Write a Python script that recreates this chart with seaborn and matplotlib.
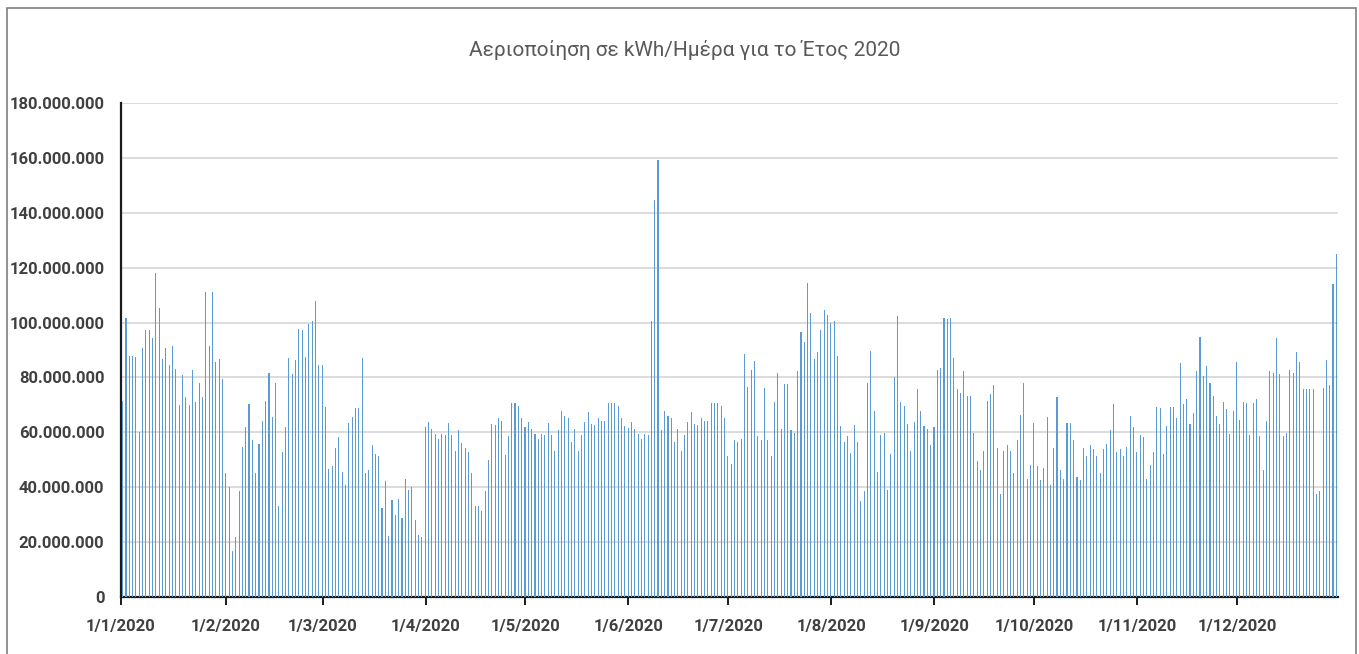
import matplotlib
matplotlib.use("Agg")
import matplotlib.pyplot as plt
import matplotlib.ticker as mticker
from matplotlib.patches import Rectangle
import seaborn as sns
import pandas as pd
import numpy as np

# Daily values in millions of kWh, 2020 (leap year, 366 days)
jan = [71.5, 101.8, 87.9, 87.9, 87.3, 60.0, 90.7, 97.2, 97.2, 94.3, 118.2, 105.2, 86.9, 90.7, 84.6, 91.6,
       83.2, 70.1, 80.8, 73.0, 70.1, 82.7, 71.0, 78.1, 73.0, 111.2, 91.6, 111.2, 85.6, 86.9, 79.5]
feb = [45.1, 40.0, 16.6, 21.8, 38.5, 54.8, 61.8, 70.3, 57.2, 45.1, 55.8, 64.2, 71.5, 81.8, 65.7, 78.1,
       33.3, 53.0, 61.8, 87.0, 81.2, 86.4, 97.6, 97.2, 87.5, 99.6, 100.4, 107.9, 84.6]
mar = [84.6, 69.3, 46.8, 47.9, 54.3, 58.2, 45.5, 40.8, 63.3, 65.7, 68.8, 68.8, 87.0, 45.1, 46.3, 55.4,
       52.1, 51.2, 32.5, 42.2, 22.1, 35.2, 29.7, 35.8, 28.7, 43.0, 39.0, 40.2, 28.1, 22.7, 21.8]
apr = [61.8, 63.6, 61.2, 59.4, 57.6, 59.4, 58.9, 63.3, 58.9, 53.3, 60.8, 56.1, 54.3, 52.8, 45.1, 33.0,
       33.3, 31.5, 38.5, 50.0, 63.0, 62.7, 65.1, 64.2, 51.9, 58.5, 70.7, 70.7, 69.7, 65.1]
may = [61.8, 63.6, 61.2, 59.4, 57.6, 59.4, 58.9, 63.3, 58.9, 53.3, 60.8, 67.9, 66.0, 65.1, 56.6, 61.2,
       53.3, 58.9, 63.6, 67.3, 63.0, 62.7, 65.1, 64.0, 64.0, 70.7, 70.7, 70.7, 69.7, 65.1, 62.2]
jun = [61.6, 63.6, 61.2, 59.4, 57.6, 59.4, 58.9, 100.6, 144.8, 159.2, 60.8, 67.9, 66.0, 65.1, 56.6, 61.2,
       53.3, 58.9, 63.6, 67.3, 63.0, 62.7, 65.1, 64.0, 64.0, 70.7, 70.7, 70.7, 69.7, 65.1]
jul = [51.2, 48.5, 57.2, 56.6, 57.6, 88.5, 76.7, 82.7, 86.1, 58.7, 57.2, 76.1, 57.2, 51.5, 71.0, 81.5,
       61.3, 77.6, 77.6, 60.8, 59.9, 82.4, 96.7, 93.0, 114.5, 103.6, 86.9, 89.3, 97.2, 104.6, 102.8]
aug = [100.0, 100.4, 87.9, 62.3, 56.6, 58.5, 52.5, 62.7, 56.6, 34.8, 38.5, 78.1, 89.7, 67.9, 45.5, 58.9,
       59.9, 39.0, 52.1, 80.0, 102.4, 71.0, 69.7, 63.0, 53.3, 63.6, 75.8, 67.9, 62.2, 61.2, 55.4]
sep = [61.8, 82.7, 83.6, 101.8, 101.2, 101.8, 87.0, 75.8, 74.3, 82.4, 73.3, 73.3, 59.9, 49.7, 46.1, 53.3,
       71.5, 73.9, 77.2, 54.3, 37.6, 53.3, 55.4, 53.3, 45.1, 57.2, 66.4, 78.1, 43.0, 48.2]
oct_ = [63.3, 47.9, 42.7, 46.9, 65.7, 40.8, 54.3, 73.0, 46.3, 43.0, 63.3, 63.3, 57.2, 43.6, 42.7, 54.3,
        51.2, 55.4, 53.9, 51.2, 45.1, 53.9, 55.8, 60.8, 70.3, 53.0, 53.9, 51.2, 54.8, 66.1, 61.8]
nov = [53.0, 58.9, 58.2, 43.0, 48.2, 53.0, 69.3, 68.8, 52.1, 62.3, 69.3, 69.3, 65.1, 85.2, 70.2, 72.1,
       63.0, 66.9, 82.4, 94.9, 80.4, 84.1, 78.1, 73.3, 66.0, 63.0, 71.0, 68.4, 59.4, 67.9]
dec = [85.6, 64.6, 71.0, 70.7, 58.9, 70.7, 72.1, 58.5, 46.3, 64.0, 82.4, 81.8, 94.3, 81.2, 58.5, 59.9,
       82.7, 81.8, 89.3, 85.6, 75.8, 75.8, 75.8, 75.8, 37.6, 38.5, 76.1, 86.4, 77.2, 113.9, 125.1]

month_labels = ["1/1/2020", "1/2/2020", "1/3/2020", "1/4/2020", "1/5/2020", "1/6/2020",
                "1/7/2020", "1/8/2020", "1/9/2020", "1/10/2020", "1/11/2020", "1/12/2020"]
title = "Αεριοποίηση σε kWh/Ημέρα για το Έτος 2020"

months = [jan, feb, mar, apr, may, jun, jul, aug, sep, oct_, nov, dec]
values = [v * 1e6 for m in months for v in m]
dates = pd.date_range("2020-01-01", periods=len(values), freq="D")
df = pd.DataFrame({"date": dates.strftime("%Y-%m-%d"), "value": values})

sns.set_theme(style="white")
plt.rcParams["font.family"] = ["Roboto", "DejaVu Sans"]

fig = plt.figure(figsize=(13.59, 6.54), dpi=100)
ax = fig.add_axes([121 / 1359, 1 - 597 / 654, (1338 - 121) / 1359, (597 - 103) / 654])

sns.barplot(data=df, x="date", y="value", color="#5B9BD5", width=0.32,
            linewidth=0, saturation=1, ax=ax, zorder=3)

ax.set_xlim(-0.5, len(values) - 0.5)
ax.set_ylim(0, 180e6)
ax.yaxis.set_major_locator(mticker.MultipleLocator(20e6))
ax.yaxis.set_major_formatter(mticker.FuncFormatter(lambda v, p: f"{int(round(v)):,}".replace(",", ".")))
ax.grid(axis="y", color="#d9d9d9", linewidth=1.3, zorder=0)
ax.set_axisbelow(True)

month_starts = [0]
for m in months[:-1]:
    month_starts.append(month_starts[-1] + len(m))
ax.set_xticks([s - 0.5 if i == 0 else s + 0.1 for i, s in enumerate(month_starts)])
ax.set_xticklabels(month_labels)

ax.set_xlabel("")
ax.set_ylabel("")
for side in ["top", "right"]:
    ax.spines[side].set_visible(False)
ax.spines["left"].set_color("#1a1a1a")
ax.spines["left"].set_linewidth(1.6)
ax.spines["bottom"].set_color("#1a1a1a")
ax.spines["bottom"].set_linewidth(1.6)

ax.tick_params(axis="x", which="major", length=6, width=1.4, color="#1a1a1a", direction="out",
               bottom=True, pad=10, labelsize=12, labelcolor="#404040")
ax.tick_params(axis="y", length=0, pad=12, labelsize=12, labelcolor="#404040")
for lbl in ax.get_xticklabels() + ax.get_yticklabels():
    lbl.set_fontweight("bold")

fig.text(685 / 1359, 1 - 50 / 654, title, ha="center", va="center", fontsize=15, color="#595959")

fig.patches.append(Rectangle((7 / 1359, -0.05), 1349 / 1359, 1.05 - 8 / 654, transform=fig.transFigure,
                             fill=False, edgecolor="#7f7f7f", linewidth=1.2))

fig.savefig("out.png", dpi=100)
